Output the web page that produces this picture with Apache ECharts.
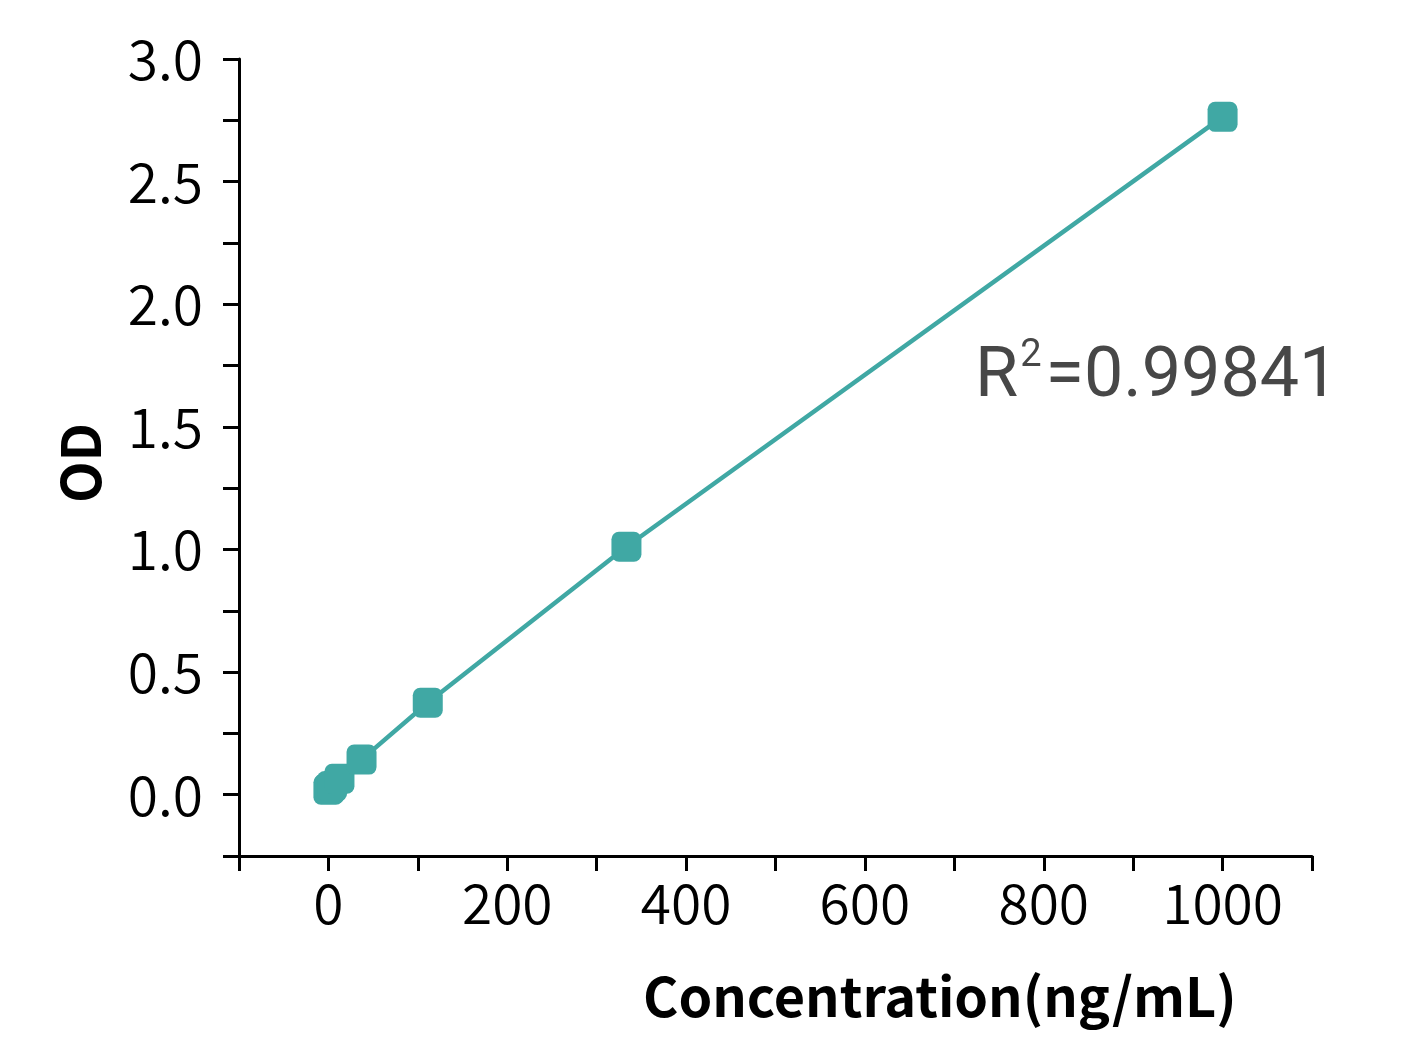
<!DOCTYPE html>
<html>
<head>
<meta charset="utf-8">
<script src="https://cdn.jsdelivr.net/npm/echarts@6/dist/echarts.min.js"></script>
<style>
html,body{margin:0;padding:0;background:#fff;}
#c{width:1406px;height:1043px;}
</style>
</head>
<body>
<div id="c"></div>
<script>
const concentration = [0, 1.37, 4.12, 12.35, 37.04, 111.1, 333.3, 1000];
const od = [0.02, 0.025, 0.035, 0.065, 0.143, 0.375, 1.011, 2.764];
const xTitle = 'Concentration(ng/mL)';
const yTitle = 'OD';
const r2Text = '0.99841';

const chart = echarts.init(document.getElementById('c'), null, {renderer: 'canvas'});
const axisFont = '"Noto Sans CJK SC", "Noto Sans", sans-serif';
const teal = '#40a8a4';
chart.setOption({
  animation: false,
  backgroundColor: '#fff',
  grid: {left: 239, right: 94, top: 59, bottom: 187, containLabel: false},
  xAxis: {
    type: 'value', min: -100, max: 1100, interval: 100,
    axisLine: {onZero: false, lineStyle: {color: '#000', width: 3}},
    axisTick: {show: true, length: 15, lineStyle: {color: '#000', width: 3}},
    splitLine: {show: false},
    axisLabel: {
      fontFamily: axisFont, fontSize: 55, fontWeight: 350, color: '#000', margin: 20,
      formatter: v => (v >= 0 && v <= 1000 && v % 200 === 0) ? String(v) : ''
    }
  },
  yAxis: {
    type: 'value', min: -0.25, max: 3.0, interval: 0.25,
    axisLine: {onZero: false, lineStyle: {color: '#000', width: 3}},
    axisTick: {show: true, length: 16, lineStyle: {color: '#000', width: 3}},
    splitLine: {show: false},
    axisLabel: {
      fontFamily: axisFont, fontSize: 55, fontWeight: 350, color: '#000', margin: 36,
      formatter: v => (Math.abs(Math.round(v * 2) - v * 2) < 1e-9 && v >= 0) ? v.toFixed(1) : ''
    }
  },
  graphic: [
    {type: 'text', left: 643, top: 969,
      style: {text: xTitle, font: 'bold 54px "Noto Sans CJK SC", "Noto Sans", sans-serif', fill: '#000'}},
    {type: 'text', x: 80, y: 463, rotation: Math.PI / 2,
      style: {text: yTitle, font: 'bold 54px "Noto Sans CJK SC", "Noto Sans", sans-serif', fill: '#000',
        align: 'center', verticalAlign: 'middle'}},
    {type: 'text', left: 975, top: 337,
      style: {
        rich: {
          b: {fontFamily: 'Roboto, sans-serif', fontSize: 70, fill: '#474747', color: '#474747'},
          s: {fontFamily: 'Roboto, sans-serif', fontSize: 38, fill: '#474747', color: '#474747', verticalAlign: 'top', padding: [0,4,44,2]}
        },
        text: '{b|R}{s|2}{b|=' + r2Text + '}'
      }}
  ],
  series: [{
    type: 'line',
    data: concentration.map((c, i) => [c, od[i]]),
    symbol: 'roundRect', symbolSize: 30,
    itemStyle: {color: teal},
    lineStyle: {color: teal, width: 4.5},
    z: 3
  }]
});
</script>
</body>
</html>
